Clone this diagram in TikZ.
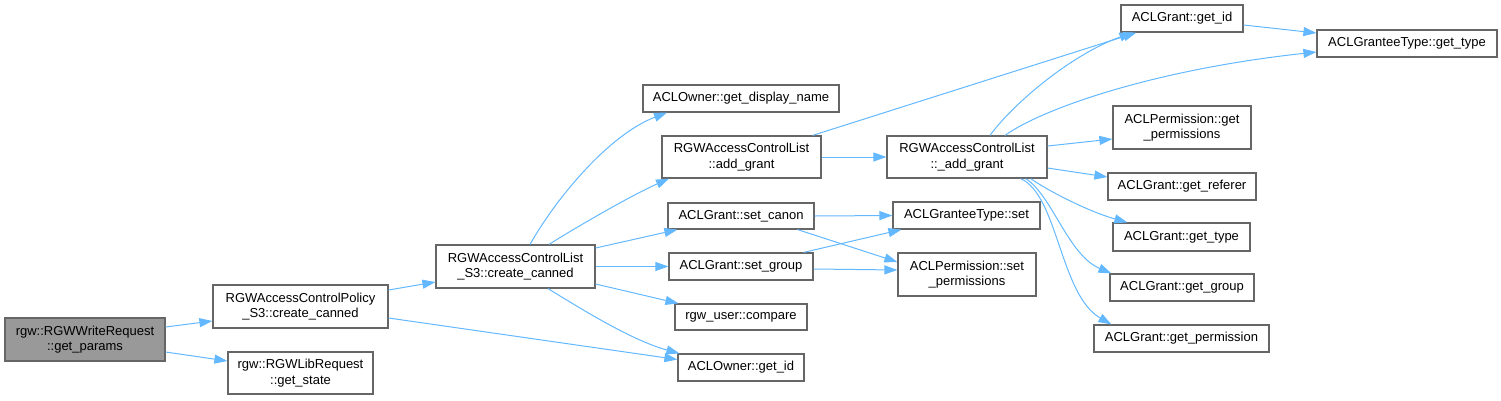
\documentclass[tikz,border=0pt]{standalone}
\usepackage{fontspec}
\setmainfont{Liberation Sans}
\usetikzlibrary{arrows.meta}
\definecolor{edgec}{HTML}{63B8FF}
\definecolor{boxc}{HTML}{666666}
\definecolor{startc}{HTML}{999999}
\begin{document}
\begin{tikzpicture}[x=1pt,y=-1pt,
  fn/.style={draw=boxc, line width=1.2pt, fill=white, inner sep=0pt, align=center,
             font=\fontsize{13}{15.3}\selectfont},
  startfn/.style={fn, fill=startc},
  call/.style={draw=edgec, line width=1pt, -{Triangle[length=13pt,width=9pt]}}
]
\useasboundingbox (0,0) rectangle (1501,400);

% nodes
\node[startfn, minimum width=160pt, minimum height=43pt] (gp) at (85,339.5) {rgw::RGWWriteRequest\\::get\_params};
\node[fn, minimum width=175pt, minimum height=43pt] (pol) at (300.5,306.5) {RGWAccessControlPolicy\\\_S3::create\_canned};
\node[fn, minimum width=145pt, minimum height=42pt] (st) at (300.5,373) {rgw::RGWLibRequest\\::get\_state};
\node[fn, minimum width=159pt, minimum height=43pt] (lst) at (515.5,266.5) {RGWAccessControlList\\\_S3::create\_canned};
\node[fn, minimum width=196pt, minimum height=27pt] (dn) at (741,98.5) {ACLOwner::get\_display\_name};
\node[fn, minimum width=159pt, minimum height=42pt] (ag) at (741.5,157) {RGWAccessControlList\\::add\_grant};
\node[fn, minimum width=146pt, minimum height=26pt] (sc) at (741,216) {ACLGrant::set\_canon};
\node[fn, minimum width=144pt, minimum height=27pt] (sg) at (741,266.5) {ACLGrant::set\_group};
\node[fn, minimum width=132pt, minimum height=26pt] (cmp) at (741,317) {rgw\_user::compare};
\node[fn, minimum width=126pt, minimum height=27pt] (oid) at (741,367.5) {ACLOwner::get\_id};
\node[fn, minimum width=160pt, minimum height=42pt] (aag) at (967,157) {RGWAccessControlList\\::\_add\_grant};
\node[fn, minimum width=147pt, minimum height=27pt] (gts) at (966.5,215.5) {ACLGranteeType::set};
\node[fn, minimum width=138pt, minimum height=43pt] (sp) at (967,274.5) {ACLPermission::set\\\_permissions};
\node[fn, minimum width=122pt, minimum height=27pt] (gid) at (1182,18.5) {ACLGrant::get\_id};
\node[fn, minimum width=180pt, minimum height=27pt] (gtt) at (1407,43.5) {ACLGranteeType::get\_type};
\node[fn, minimum width=138pt, minimum height=43pt] (gpe) at (1182,127.5) {ACLPermission::get\\\_permissions};
\node[fn, minimum width=148pt, minimum height=27pt] (gr) at (1182,186.5) {ACLGrant::get\_referer};
\node[fn, minimum width=137pt, minimum height=28pt] (gty) at (1181.5,237) {ACLGrant::get\_type};
\node[fn, minimum width=144pt, minimum height=27pt] (gg) at (1182,287.5) {ACLGrant::get\_group};
\node[fn, minimum width=175pt, minimum height=27pt] (gpm) at (1181.5,338.5) {ACLGrant::get\_permission};

% edges
\draw[call] ([yshift=12.5pt]gp.east) -- ([yshift=-14.5pt]pol.west);
\draw[call] ([yshift=-12.5pt]gp.east) -- ([yshift=12pt]st.west);
\draw[call] ([yshift=16.5pt]pol.east) -- ([yshift=-15.5pt]lst.west);
\draw[call] ([yshift=-11.5pt]pol.east) -- ([yshift=8pt]oid.west);

\draw[call] ([xshift=14.5pt]lst.north) .. controls (555,200) and (608,135) .. ([xshift=-74pt]dn.south);
\draw[call] ([xshift=33.5pt]lst.north) .. controls (575,228) and (630,196) .. ([xshift=-72.5pt]ag.south);
\draw[call] ([yshift=18.5pt]lst.east) -- ([xshift=10pt]sc.south west);
\draw[call] (lst.east) -- (sg.west);
\draw[call] ([yshift=-17.5pt]lst.east) -- ([xshift=4pt]cmp.north west);
\draw[call] ([xshift=32.5pt]lst.south) .. controls (575,305) and (630,340) .. ([xshift=2pt]oid.north west);

\draw[call] ([xshift=-9pt]ag.north east) -- ([xshift=16pt]gid.south west);
\draw[call] (ag.east) -- (aag.west);
\draw[call] (sc.east) -- (gts.west);
\draw[call] ([xshift=-17pt]sc.south east) -- ([yshift=12.5pt]sp.west);
\draw[call] ([xshift=-10pt]sg.north east) -- ([xshift=9pt]gts.south west);
\draw[call] ([yshift=-2.5pt]sg.east) -- ([yshift=4.5pt]sp.west);

\draw[call] ([xshift=23pt]aag.north) .. controls (1012,105) and (1070,55) .. ([xshift=12pt]gid.south west);
\draw[call] ([xshift=38pt]aag.north) .. controls (1040,110) and (1150,70) .. ([yshift=-8.5pt]gtt.west);
\draw[call] ([yshift=11pt]aag.east) -- ([yshift=-11.5pt]gpe.west);
\draw[call] ([yshift=-11pt]aag.east) -- ([yshift=9.5pt]gr.west);
\draw[call] ([xshift=-17pt]aag.south east) .. controls (1050,192) and (1090,212) .. ([xshift=15pt]gty.north west);
\draw[call] ([xshift=-22pt]aag.south east) .. controls (1052,195) and (1068,255) .. ([xshift=2pt]gg.north west);
\draw[call] ([xshift=-27pt]aag.south east) .. controls (1058,195) and (1060,295) .. ([xshift=18pt]gpm.north west);

\draw[call] ([yshift=-6.5pt]gid.east) -- ([yshift=10.5pt]gtt.west);
\end{tikzpicture}
\end{document}
